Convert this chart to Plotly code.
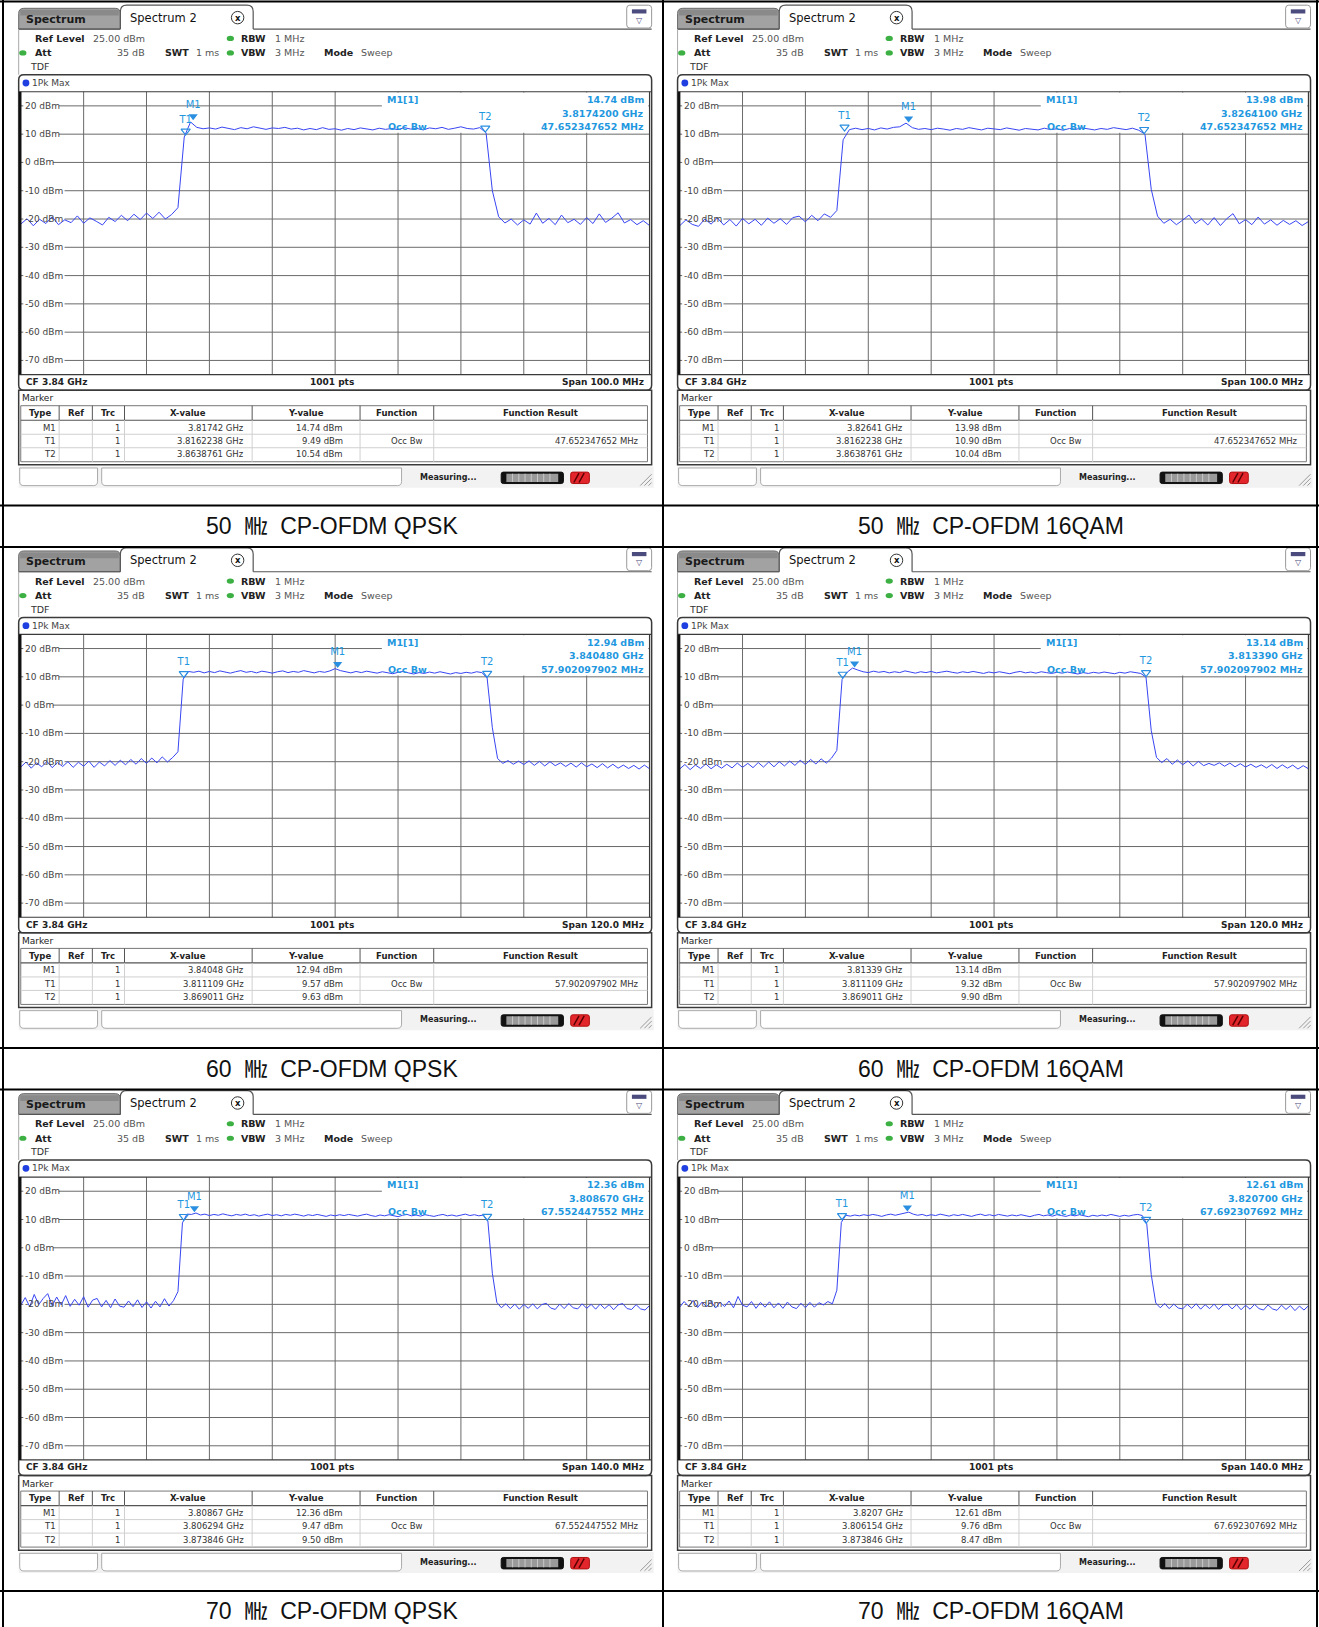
import numpy as np
import plotly.graph_objects as go

CF = 3.84  # GHz
SPANS = [100, 100, 120, 120, 140, 140]  # MHz
CAPTIONS = ["50 ㎒ CP-OFDM QPSK", "50 ㎒ CP-OFDM 16QAM",
            "60 ㎒ CP-OFDM QPSK", "60 ㎒ CP-OFDM 16QAM",
            "70 ㎒ CP-OFDM QPSK", "70 ㎒ CP-OFDM 16QAM"]

# trace levels (dBm), one value per MHz across the span
TRACE_50_QPSK = [
    -21.8, -19.9, -22.4, -20.1, -21.6, -19.2, -22.0, -20.3, -21.3, -18.9,
    -21.5, -19.6, -20.8, -22.1, -19.4, -20.9, -18.7, -20.6, -18.3, -20.2,
    -17.9, -19.8, -17.6, -20.0, -18.4,
    -16.0, 9.0, 14.3,
    12.4, 11.9, 12.2, 11.8, 12.5, 12.0, 11.6, 12.3, 11.9, 12.6,
    12.1, 11.7, 12.2, 12.0, 12.4, 11.8, 12.1, 11.5, 12.0, 11.6,
    12.3, 11.7, 11.9, 11.4, 12.0, 11.6, 12.2, 11.8, 11.5, 12.1,
    11.7, 12.0, 11.6, 12.3, 11.8, 12.0, 11.5, 12.2, 11.9, 12.4,
    11.7, 12.1, 12.6, 12.0, 11.8, 12.3,
    10.5, -10.0,
    -19.2, -21.4, -20.0, -22.1, -20.3, -21.8, -17.9, -21.5, -19.8, -22.0,
    -18.6, -21.3, -20.1, -21.9, -19.5, -21.6, -18.2, -21.2, -19.7, -17.8,
    -21.4, -20.2, -22.0, -20.6, -22.3]
TRACE_50_16QAM = [
    -22.4, -20.3, -21.9, -22.6, -20.0, -21.8, -19.6, -22.1, -20.2, -22.5,
    -19.8, -21.7, -20.1, -22.2, -19.7, -21.5, -19.9, -21.9, -19.5, -19.0,
    -21.0, -18.7, -20.6, -18.2, -19.4,
    -17.0, 8.0, 11.6,
    12.1, 11.6, 12.0, 11.5, 12.2, 11.8, 12.4, 12.6, 13.9, 12.3,
    11.7, 12.0, 11.6, 12.1, 11.8, 11.4, 12.0, 11.7, 12.3, 11.9,
    11.5, 12.1, 11.8, 11.6, 12.2, 11.7, 11.4, 12.0, 11.8, 11.5,
    12.1, 11.6, 11.9, 11.4, 12.0, 11.7, 12.2, 11.8, 11.5, 12.0,
    11.7, 12.3, 11.9, 11.6, 12.1, 11.4,
    10.0, -9.5,
    -19.0, -21.5, -20.1, -22.0, -20.4, -18.6, -21.6, -20.0, -22.1, -19.5,
    -22.3, -19.9, -18.1, -21.7, -20.2, -22.0, -19.3, -21.8, -20.3, -22.2,
    -20.5, -21.9, -20.6, -22.3, -20.9]
TRACE_60_QPSK = [
    -21.9, -20.1, -22.3, -20.4, -21.8, -19.9, -22.1, -20.3, -21.7, -20.0,
    -22.0, -20.2, -21.6, -19.8, -22.0, -20.1, -21.5, -19.6, -21.3, -19.5,
    -21.1, -19.2, -20.9, -18.9, -20.6, -18.7, -20.4, -18.3, -20.1, -18.5,
    -16.5, 9.2, 11.9,
    11.6, 12.0, 11.4, 11.9, 11.5, 12.1, 11.7, 11.3, 11.8, 12.2,
    11.6, 11.9, 11.4, 12.0, 11.7, 11.3, 11.8, 12.1, 11.5, 11.9,
    11.6, 12.2, 11.8, 11.4, 11.9, 11.6, 12.1, 12.9, 12.2, 11.7,
    11.4, 11.9, 11.5, 12.0, 11.6, 11.3, 11.8, 11.5, 11.1, 11.6,
    11.9, 11.4, 11.0, 11.5, 11.2, 11.7, 11.3, 11.8, 11.4, 11.0,
    11.5, 11.2, 11.6, 11.3, 11.8, 11.5,
    9.6, -8.0,
    -18.9, -20.6, -19.6, -20.9, -19.8, -21.0, -19.7, -21.3, -19.9, -21.5,
    -20.0, -21.4, -20.4, -21.7, -20.5, -21.9, -20.4, -21.8, -20.8, -22.1,
    -20.7, -22.2, -20.9, -22.3, -21.2, -22.4, -21.3, -22.6, -21.2, -22.5]
TRACE_60_16QAM = [
    -22.6, -21.0, -22.8, -21.2, -22.4, -20.8, -22.5, -21.1, -22.3, -20.9,
    -22.2, -20.5, -22.0, -20.6, -22.1, -20.3, -21.9, -20.1, -21.8, -20.0,
    -21.5, -19.8, -21.3, -19.5, -21.0, -19.2, -20.8, -19.0, -20.5, -18.7,
    -16.0, 9.1, 11.7,
    13.1, 12.4, 11.8, 11.5, 12.0, 11.6, 11.9, 11.4, 11.8, 11.5,
    12.1, 11.7, 11.3, 11.8, 11.5, 11.9, 11.4, 11.7, 12.0, 11.6,
    11.3, 11.8, 11.5, 11.9, 11.6, 11.2, 11.7, 11.4, 11.8, 11.5,
    11.1, 11.6, 11.9, 11.4, 11.7, 11.3, 11.8, 11.5, 11.2, 11.6,
    11.3, 11.7, 11.4, 11.0, 11.5, 11.2, 11.6, 11.3, 11.7, 11.4,
    11.1, 11.6, 11.3, 11.8, 11.5, 11.2,
    9.9, -9.0,
    -18.5, -20.3, -18.9, -20.9, -19.4, -21.1, -19.7, -21.5, -19.9, -21.4,
    -20.6, -21.3, -20.4, -21.6, -20.5, -21.8, -20.7, -21.9, -20.9, -22.0,
    -21.1, -22.2, -21.0, -22.4, -21.1, -22.3, -21.2, -22.6, -21.4, -22.5]
TRACE_70_QPSK = [
    -20.3, -17.6, -20.8, -16.5, -20.1, -17.9, -16.2, -20.5, -17.4, -20.2,
    -16.9, -20.7, -18.2, -20.3, -17.3, -21.0, -18.5, -17.9, -20.9, -18.6,
    -21.2, -18.1, -20.6, -21.0, -18.8, -20.8, -18.4, -21.1, -19.1, -21.3,
    -18.9, -20.9, -18.0, -20.6, -18.7,
    -15.5, 8.8, 11.9,
    11.8, 12.3, 11.6, 11.9, 11.4, 11.8, 11.5, 12.0, 11.6, 11.3,
    11.8, 11.5, 11.9, 11.4, 11.7, 11.2, 11.6, 11.9, 11.4, 11.7,
    11.3, 11.8, 11.5, 11.9, 11.6, 11.2, 11.7, 11.4, 11.8, 11.5,
    11.1, 11.6, 11.3, 11.7, 11.4, 11.8, 11.5, 11.2, 11.6, 11.9,
    11.4, 11.1, 11.6, 11.3, 11.7, 11.4, 11.0, 11.5, 11.8, 11.3,
    11.6, 11.2, 11.7, 11.4, 11.1, 11.5, 11.8, 11.3, 11.6, 11.2,
    11.5, 11.9, 11.4, 11.7, 11.3, 11.6,
    9.5, -9.0,
    -19.3, -21.2, -19.8, -21.5, -19.9, -21.7, -20.0, -21.4, -19.8, -21.6,
    -20.1, -19.6, -21.3, -21.8, -19.9, -21.5, -19.7, -21.2, -21.6, -19.8,
    -21.4, -20.0, -21.7, -19.9, -21.5, -20.1, -21.9, -20.2, -19.7, -21.5,
    -21.8, -20.1, -21.6, -22.0, -20.4]
TRACE_70_16QAM = [
    -21.0, -19.0, -20.7, -18.6, -21.1, -19.2, -20.9, -18.9, -21.3, -19.3,
    -20.8, -18.8, -21.2, -17.2, -20.3, -20.9, -19.0, -21.4, -19.3, -21.0,
    -19.1, -21.2, -19.5, -21.4, -19.2, -20.9, -21.5, -19.6, -21.2, -19.3,
    -21.0, -19.4, -20.2, -19.0, -19.8,
    -15.0, 9.0, 11.5,
    11.2, 11.6, 11.3, 11.7, 11.4, 11.8, 11.5, 11.1, 11.6, 11.9,
    11.5, 11.8, 12.1, 12.6, 11.9, 11.5, 11.8, 11.3, 11.7, 11.4,
    11.9, 11.5, 11.2, 11.7, 11.4, 11.8, 11.5, 11.1, 11.6, 11.9,
    11.4, 11.7, 11.3, 11.8, 11.5, 11.2, 11.6, 11.3, 11.7, 11.4,
    11.0, 11.5, 11.8, 11.3, 11.6, 11.2, 11.7, 11.4, 11.1, 11.6,
    11.3, 11.7, 11.4, 11.0, 11.5, 11.2, 11.6, 11.3, 11.8, 11.4,
    11.1, 11.5, 11.2, 11.6, 11.8, 11.4,
    8.5, -9.5,
    -19.5, -21.2, -19.7, -21.5, -19.9, -21.3, -21.6, -20.0, -21.4, -19.8,
    -21.7, -20.1, -21.5, -19.9, -21.8, -20.2, -20.0, -21.6, -20.1, -21.9,
    -20.3, -21.7, -20.0, -21.5, -22.0, -20.2, -21.6, -22.1, -20.3, -21.8,
    -20.4, -22.2, -20.6, -22.0, -20.5]
TRACES = [TRACE_50_QPSK, TRACE_50_16QAM, TRACE_60_QPSK,
          TRACE_60_16QAM, TRACE_70_QPSK, TRACE_70_16QAM]

# marker table
M1_X = [3.81742, 3.82641, 3.84048, 3.81339, 3.80867, 3.8207]
M1_Y = [14.74, 13.98, 12.94, 13.14, 12.36, 12.61]
T1_X = [3.8162238, 3.8162238, 3.811109, 3.811109, 3.806294, 3.806154]
T1_Y = [9.49, 10.90, 9.57, 9.32, 9.47, 9.76]
T2_X = [3.8638761, 3.8638761, 3.869011, 3.869011, 3.873846, 3.873846]
T2_Y = [10.54, 10.04, 9.63, 9.90, 9.50, 8.47]
M1_FREQ_TXT = ["3.8174200 GHz", "3.8264100 GHz", "3.840480 GHz",
               "3.813390 GHz", "3.808670 GHz", "3.820700 GHz"]
OCC_BW = ["47.652347652 MHz", "47.652347652 MHz", "57.902097902 MHz",
          "57.902097902 MHz", "67.552447552 MHz", "67.692307692 MHz"]
DBM_TICKS = [20, 10, 0, -10, -20, -30, -40, -50, -60, -70]

# ---------------- layout helpers ----------------
W, H = 1319, 1627
S = H / 1568.0        # layout units -> pixels
DX, DY = 635, 523     # panel pitch in layout units
FONT = "DejaVu Sans"
BLUE_TXT = "#1f98e0"
TRACE_CLR = "#3845f2"
GRID = "#6a6a6a"

shapes, annos = [], []


def X(x, c):
    return (x + c * DX) * S / W


def Y(y, r):
    return 1 - (y + r * DY) * S / H


def line(x0, y0, x1, y1, c, r, color="#444", w=1):
    shapes.append(dict(type="line", xref="paper", yref="paper",
                       x0=X(x0, c), y0=Y(y0, r), x1=X(x1, c), y1=Y(y1, r),
                       line=dict(color=color, width=w)))


def box(x0, y0, x1, y1, c, r, fill="white", color=None, w=1):
    shapes.append(dict(type="rect", xref="paper", yref="paper",
                       x0=X(x0, c), y0=Y(y1, r), x1=X(x1, c), y1=Y(y0, r),
                       fillcolor=fill,
                       line=dict(color=color or fill, width=w if color else 0)))


def rbox(x0, y0, x1, y1, c, r, rt=4, rb=4, fill=None, color="#444", w=1,
         open_bottom=False):
    p = (f"M{X(x0, c)},{Y(y1 - rb, r)} L{X(x0, c)},{Y(y0 + rt, r)} "
         f"Q{X(x0, c)},{Y(y0, r)} {X(x0 + rt, c)},{Y(y0, r)} "
         f"L{X(x1 - rt, c)},{Y(y0, r)} Q{X(x1, c)},{Y(y0, r)} {X(x1, c)},{Y(y0 + rt, r)} "
         f"L{X(x1, c)},{Y(y1 - rb, r)}")
    if not open_bottom:
        p += (f" Q{X(x1, c)},{Y(y1, r)} {X(x1 - rb, c)},{Y(y1, r)} "
              f"L{X(x0 + rb, c)},{Y(y1, r)} Q{X(x0, c)},{Y(y1, r)} {X(x0, c)},{Y(y1 - rb, r)} Z")
    shapes.append(dict(type="path", xref="paper", yref="paper", path=p,
                       fillcolor=fill or "rgba(0,0,0,0)",
                       line=dict(color=color, width=w)))


def dot(x, y, rx, ry, c, r, fill, color=None, w=0):
    shapes.append(dict(type="circle", xref="paper", yref="paper",
                       x0=X(x - rx, c), x1=X(x + rx, c),
                       y0=Y(y + ry, r), y1=Y(y - ry, r), fillcolor=fill,
                       line=dict(color=color or fill, width=w)))


def txt(x, y, s, c, r, size=9.5, color="#222", bold=False, anchor="left",
        family=FONT):
    annos.append(dict(xref="paper", yref="paper", x=X(x, c), y=Y(y, r),
                      text=f"<b>{s}</b>" if bold else s, showarrow=False,
                      xanchor=anchor, yanchor="middle", borderpad=0,
                      font=dict(size=size, color=color, family=family)))


def oline(x0, y0, x1, y1, w=2):
    shapes.append(dict(type="line", xref="paper", yref="paper",
                       x0=x0 / W, x1=x1 / W, y0=1 - y0 / H, y1=1 - y1 / H,
                       line=dict(color="#000", width=w)))


fig = go.Figure()
layout_axes = {}
GX0, GX1, GY0, GY1 = 20, 626, 88.4, 361

for i in range(6):
    c, r = i % 2, i // 2
    k = "" if i == 0 else str(i + 1)
    span = SPANS[i]
    lo, hi = CF - span / 2000, CF + span / 2000

    # ---- graticule (drawn under the trace) ----
    for j in range(1, 10):
        shapes.append(dict(type="line", xref=f"x{k} domain", yref=f"y{k} domain",
                           x0=j / 10, x1=j / 10, y0=0, y1=1, layer="below",
                           line=dict(color=GRID, width=1)))
    for v in DBM_TICKS:
        shapes.append(dict(type="line", xref=f"x{k} domain", yref=f"y{k}",
                           x0=0, x1=1, y0=v, y1=v, layer="below",
                           line=dict(color=GRID, width=1)))
    # level labels with white backing
    for v in DBM_TICKS:
        lab = f"{v} dBm"
        wfrac = (3 + len(lab) * 5.6) / (GX1 - GX0)
        shapes.append(dict(type="rect", xref=f"x{k} domain", yref=f"y{k}",
                           x0=0.004, x1=wfrac, y0=v - 2.2, y1=v + 2.2,
                           fillcolor="white", line=dict(width=0),
                           layer="below"))
        ly = GY0 + (25 - v) / 100 * (GY1 - GY0)
        txt(23, ly, lab, c, r, size=9, color="#444")
    # marker info box
    shapes.append(dict(type="rect", xref=f"x{k} domain", yref=f"y{k} domain",
                       x0=(368 - GX0) / (GX1 - GX0), x1=0.998,
                       y0=(GY1 - 128) / (GY1 - GY0), y1=0.997,
                       fillcolor="white", line=dict(width=0), layer="below"))

    # ---- tabs ----
    rbox(18, 8, 116, 28, c, r, rt=5, rb=0, fill="#a2a2a2", color="#6a6a6a")
    box(19.5, 9.5, 114.5, 15, c, r, fill="#8a8a8a")
    txt(24, 18.5, "Spectrum", c, r, size=11, color="#1a1a1a", bold=True)
    rbox(116, 5, 244, 28, c, r, rt=6, rb=0, fill="white", color="#555",
         w=1.2, open_bottom=True)
    txt(124, 17, "Spectrum 2", c, r, size=11.5, color="#111")
    dot(229, 17, 6, 6, c, r, "white", color="#333", w=1)
    txt(229, 17, "x", c, r, size=8.5, color="#111", bold=True, anchor="center")
    line(18, 28, 116, 28, c, r, "#555", 1.2)
    line(244, 28, 628, 28, c, r, "#555", 1.2)
    line(18, 28, 18, 72, c, r, "#aaa", 1)
    rbox(604, 5, 628, 27, c, r, rt=3, rb=3, fill="white", color="#999")
    box(609, 9, 623, 13, c, r, fill="#4b4b7d")
    txt(616, 19.5, "▽", c, r, size=8, color="#4b4b7d", anchor="center")

    # ---- header ----
    txt(33, 37, "Ref Level", c, r, bold=True)
    txt(89, 37, "25.00 dBm", c, r, color="#555")
    dot(222, 37, 3.5, 2.5, c, r, "#3cb043")
    txt(231, 37, "RBW", c, r, bold=True)
    txt(264, 37, "1 MHz", c, r, color="#555")
    dot(22, 51, 3.5, 2.5, c, r, "#3cb043")
    txt(33, 51, "Att", c, r, bold=True)
    txt(141, 51, "35 dB", c, r, color="#555", anchor="right")
    txt(158, 51, "SWT", c, r, bold=True)
    txt(188, 51, "1 ms", c, r, color="#555")
    dot(222, 51, 3.5, 2.5, c, r, "#3cb043")
    txt(231, 51, "VBW", c, r, bold=True)
    txt(264, 51, "3 MHz", c, r, color="#555")
    txt(311, 51, "Mode", c, r, bold=True)
    txt(347, 51, "Sweep", c, r, color="#555")
    txt(28, 64, "TDF", c, r, color="#333")

    # ---- diagram window ----
    rbox(18, 72, 628, 376, c, r, rt=5, rb=5, color="#3a3a3a", w=1.5)
    line(18, GY0, 628, GY0, c, r, "#3a3a3a", 1.2)
    line(18, GY1, 628, GY1, c, r, "#3a3a3a", 1.2)
    line(19.5, GY0, 19.5, GY1, c, r, "#111", 2.5)
    line(GX1, GY0, GX1, GY1, c, r, "#3a3a3a", 1.2)
    dot(25, 80, 3.3, 3.3, c, r, "#1f3fe0")
    txt(30, 80, "1Pk Max", c, r, size=9, color="#444")
    txt(24, 368, "CF 3.84 GHz", c, r, size=9, bold=True)
    txt(320, 368, "1001 pts", c, r, size=9, bold=True, anchor="center")
    txt(622, 368, f"Span {span:.1f} MHz", c, r, size=9, bold=True,
        anchor="right")

    txt(372, 96, "M1[1]", c, r, size=9.5, color=BLUE_TXT, bold=True)
    txt(622, 96, f"{M1_Y[i]:.2f} dBm", c, r, size=9.5, color=BLUE_TXT,
        bold=True, anchor="right")
    txt(622, 109, M1_FREQ_TXT[i], c, r, size=9.5, color=BLUE_TXT, bold=True,
        anchor="right")
    txt(622, 122, OCC_BW[i], c, r, size=9.5, color=BLUE_TXT, bold=True,
        anchor="right")
    txt(373, 122, "Occ Bw", c, r, size=9.5, color=BLUE_TXT, bold=True)

    # ---- trace + markers ----
    yv = TRACES[i]
    assert len(yv) == span + 1, (i, len(yv))
    xv = np.linspace(lo, hi, len(yv))
    fig.add_trace(go.Scatter(x=xv, y=yv, mode="lines", xaxis=f"x{k}",
                             yaxis=f"y{k}", hoverinfo="skip",
                             line=dict(color=TRACE_CLR, width=1)))
    fig.add_trace(go.Scatter(x=[M1_X[i]], y=[M1_Y[i] + 1.6], mode="markers+text",
                             xaxis=f"x{k}", yaxis=f"y{k}", text=["M1"],
                             textposition="top center", cliponaxis=False,
                             textfont=dict(size=10, color=BLUE_TXT, family=FONT),
                             marker=dict(symbol="triangle-down", size=8,
                                         color="#2a8fe0")))
    fig.add_trace(go.Scatter(x=[T1_X[i], T2_X[i]],
                             y=[T1_Y[i] + 1.6, T2_Y[i] + 1.6],
                             mode="markers+text", xaxis=f"x{k}", yaxis=f"y{k}",
                             text=["T1", "T2"], textposition="top center",
                             cliponaxis=False,
                             textfont=dict(size=10, color=BLUE_TXT, family=FONT),
                             marker=dict(symbol="triangle-down-open", size=8,
                                         color="#2a8fe0",
                                         line=dict(width=1.2, color="#2a8fe0"))))

    layout_axes[f"xaxis{k}"] = dict(
        domain=[X(GX0, c), X(GX1, c)], range=[lo, hi], showgrid=False,
        showticklabels=False, ticks="", zeroline=False, showline=False,
        anchor=f"y{k}", fixedrange=True)
    layout_axes[f"yaxis{k}"] = dict(
        domain=[Y(GY1, r), Y(GY0, r)], range=[-75, 25], showgrid=False,
        showticklabels=False, ticks="", zeroline=False, showline=False,
        anchor=f"x{k}", fixedrange=True)

    # ---- marker table ----
    rbox(18, 376, 628, 448, c, r, rt=0, rb=0, color="#3a3a3a", w=1.5)
    txt(20, 384, "Marker", c, r, size=9, color="#222")
    box(20, 391, 624, 445, c, r, fill="white", color="#777", w=1)
    line(20, 405, 624, 405, c, r, "#555", 1.2)
    line(20, 418.5, 624, 418.5, c, r, "#d0d0d0", 1)
    line(20, 431.5, 624, 431.5, c, r, "#d0d0d0", 1)
    for sx in [57, 89, 120, 243, 347, 418]:
        line(sx, 391, sx, 405, c, r, "#555", 1)
        line(sx, 405, sx, 445, c, r, "#d0d0d0", 1)
    for hx, ht in [(39, "Type"), (73, "Ref"), (104, "Trc"), (181, "X-value"),
                   (295, "Y-value"), (382, "Function"),
                   (521, "Function Result")]:
        txt(hx, 398, ht, c, r, size=8.5, bold=True, anchor="center")
    rows = [("M1", M1_X[i], M1_Y[i], "", ""),
            ("T1", T1_X[i], T1_Y[i], "Occ Bw", OCC_BW[i]),
            ("T2", T2_X[i], T2_Y[i], "", "")]
    for j, (nm, fx, fy, fn, res) in enumerate(rows):
        ry = 412 + j * 13
        txt(55, ry, nm, c, r, size=8.5, color="#333", anchor="right")
        txt(117, ry, "1", c, r, size=8.5, color="#333", anchor="right")
        txt(236, ry, f"{fx} GHz", c, r, size=8.5, color="#333", anchor="right")
        txt(332, ry, f"{fy:.2f} dBm", c, r, size=8.5, color="#333",
            anchor="right")
        if fn:
            txt(392, ry, fn, c, r, size=8.5, color="#333", anchor="center")
            txt(617, ry, res, c, r, size=8.5, color="#333", anchor="right")

    # ---- status bar ----
    box(18, 449.5, 630, 470, c, r, fill="#f2f2f2")
    rbox(19, 451, 94, 468, c, r, rt=0, rb=4, fill="white", color="#aaa")
    rbox(98, 451, 387, 468, c, r, rt=0, rb=4, fill="white", color="#aaa")
    txt(404, 460, "Measuring...", c, r, size=8, bold=True, color="#222")
    rbox(483, 455, 543, 466, c, r, rt=2, rb=2, fill="#111", color="#111")
    box(488, 456.5, 538, 464.5, c, r, fill="#9a9a9a")
    for sx in [494, 500, 506, 512, 518, 524, 530]:
        line(sx, 456.5, sx, 464.5, c, r, "#d4d4d4", 0.8)
    rbox(550, 455, 568, 466, c, r, rt=2, rb=2, fill="#e3262c", color="#b01010")
    line(553, 465, 558, 456, c, r, "#5a0000", 1.5)
    line(558, 465, 563, 456, c, r, "#5a0000", 1.5)
    line(617, 468, 628, 457, c, r, "#999", 1)
    line(621, 468, 628, 461, c, r, "#999", 1)
    line(625, 468, 628, 465, c, r, "#999", 1)

    # ---- caption ----
    txt(320, 507, CAPTIONS[i].replace(" ㎒ ", "\u00a0 ㎒ \u00a0"), c, r,
        size=23, color="#111", anchor="center",
        family="Liberation Sans, Noto Sans CJK KR")

# outer table grid of the document page
for yy in [1.5, 505.5, 547, 1048, 1089.5, 1591]:
    oline(0, yy, W, yy)
for xx in [3, 663, 1317]:
    oline(xx, 0, xx, H)

fig.update_layout(width=W, height=H, margin=dict(l=0, r=0, t=0, b=0),
                  paper_bgcolor="white", plot_bgcolor="white",
                  showlegend=False, shapes=shapes, annotations=annos,
                  **layout_axes)

fig.write_html("out.html", config={"displayModeBar": False},
               post_script="document.body.style.margin='0px';")
